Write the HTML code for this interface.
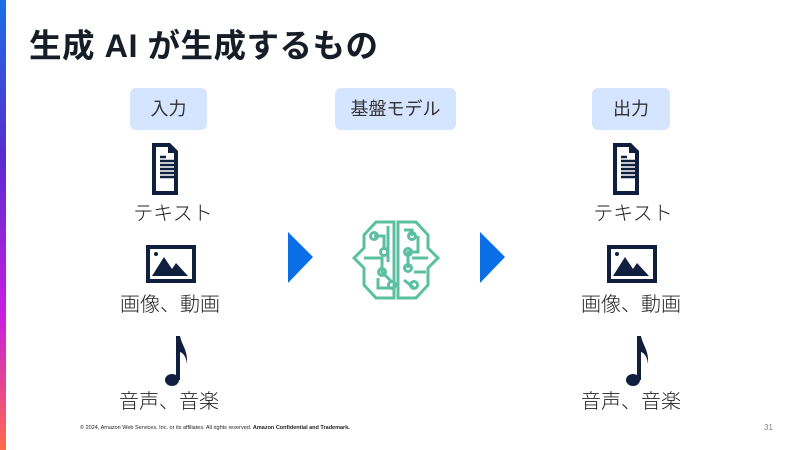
<!DOCTYPE html>
<html><head><meta charset="utf-8"><style>
body{margin:0;width:800px;height:450px;background:#fff;position:relative;overflow:hidden;font-family:"Liberation Sans","Noto Sans CJK JP",sans-serif;color:#161d26}
.bar{position:absolute;left:0;top:0;width:6px;height:450px;background:linear-gradient(#1a6ee6,#5a2bd0 35%,#c81ee0 70%,#ff6a4a)}
.t{position:absolute;left:29px;top:20px;font-size:32.5px;font-weight:bold;white-space:nowrap;letter-spacing:0.5px}
.box{position:absolute;top:88px;height:42px;background:#d5e4ff;border-radius:6px;font-size:18px;line-height:42px;text-align:center;color:#333}
.lbl{position:absolute;font-size:20px;width:160px;text-align:center;white-space:nowrap;color:#222;font-weight:300}
.ft{position:absolute;left:80px;top:425px;font-size:5.5px;color:#222}
.pg{position:absolute;left:764px;top:423px;font-size:8px;color:#888}
</style></head><body>
<div class="bar"></div>
<div class="t">生成 AI が生成するもの</div>
<div class="box" style="left:130px;width:77px">入力</div>
<div class="box" style="left:335px;width:121px">基盤モデル</div>
<div class="box" style="left:592px;width:78px">出力</div>
<svg width="800" height="450" style="position:absolute;left:0;top:0">
<defs>
<g id="doc"><path d="M0 0H18L26 8V52H0Z" fill="#0f1f3d"/><path d="M4 4H16V10H22V48H4Z" fill="#fff"/><path d="M8 14h6M8 18h14M8 22h14M8 26h14M8 30h14M8 34h14" stroke="#0f1f3d" stroke-width="2.5"/></g>
<g id="img"><rect x="0" y="0" width="50" height="38" fill="#0f1f3d"/><rect x="4" y="4" width="42" height="30" fill="#fff"/><path d="M6 31L18 12L26 24L30 18L42 31Z" fill="#0f1f3d"/><circle cx="10" cy="9" r="2" fill="#0f1f3d"/></g>
<g id="note"><ellipse cx="6" cy="44" rx="7" ry="6" fill="#0f1f3d"/><path d="M10 44V0H14C16 10 22 14 21 28C20 20 17 17 14 16V44Z" fill="#0f1f3d"/></g>
</defs>
<use href="#doc" x="152" y="143"/><use href="#doc" x="613" y="143"/>
<use href="#img" x="146" y="245"/><use href="#img" x="607" y="245"/>
<use href="#note" x="166" y="336"/><use href="#note" x="627" y="336"/>
<path d="M288 232L313 257L288 283Z" fill="#0a6fe6"/>
<path d="M480 232L505 257L480 283Z" fill="#0a6fe6"/>
<g fill="none" stroke="#5cc0a0" stroke-width="3">
<path d="M394 222H376L364 235V248L354 258L364 268V285L376 298H394Z"/>
<path d="M398 222H416L428 235V248L438 258L428 268V285L416 298H398Z"/>
<path d="M374 236H384V250M388 226V262M364 258H382V272L392 282M378 278V288H394"/>
<path d="M404 230H412V236M418 236V252H408V268M428 258H412M414 272H426M404 280L414 288"/>
<circle cx="384" cy="252" r="3.5"/><circle cx="374" cy="236" r="3.5"/><circle cx="382" cy="272" r="3.5"/><circle cx="392" cy="285" r="3.5"/>
<circle cx="412" cy="236" r="3.5"/><circle cx="408" cy="252" r="3.5"/><circle cx="408" cy="268" r="3.5"/><circle cx="414" cy="285" r="3.5"/>
</g>
</svg>
<div class="lbl" style="left:93px;top:197px">テキスト</div>
<div class="lbl" style="left:553px;top:197px">テキスト</div>
<div class="lbl" style="left:90px;top:288px">画像、動画</div>
<div class="lbl" style="left:551px;top:288px">画像、動画</div>
<div class="lbl" style="left:89px;top:385px">音声、音楽</div>
<div class="lbl" style="left:551px;top:385px">音声、音楽</div>
<div class="ft">© 2024, Amazon Web Services, Inc. or its affiliates. All rights reserved. <b>Amazon Confidential and Trademark.</b></div>
<div class="pg">31</div>
</body></html>
